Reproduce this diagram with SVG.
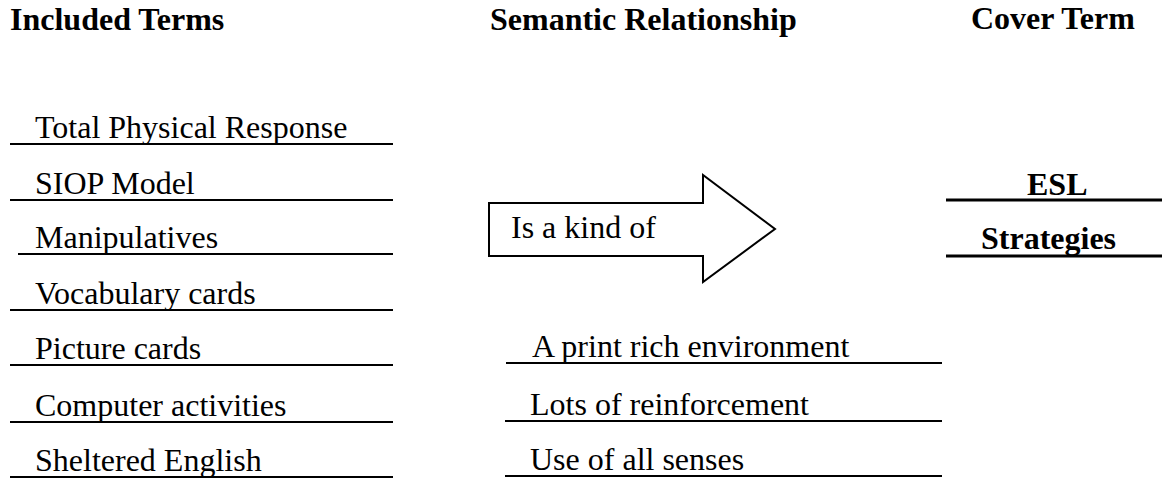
<svg xmlns="http://www.w3.org/2000/svg" width="1164" height="479" viewBox="0 0 1164 479">
<style>
text{font-family:"Liberation Serif","Times New Roman",serif;font-size:32px;fill:#000}
.b{font-weight:bold}
.u{stroke:#000;stroke-width:2;fill:none}
</style>
<rect width="1164" height="479" fill="#fff"/>
<g id="headers">
<text class="b" x="10" y="30">Included Terms</text>
<text class="b" x="490" y="30">Semantic Relationship</text>
<text class="b" x="971" y="29">Cover Term</text>
</g>
<g id="included-terms">
<g id="t1"><text x="35" y="138">Total Physical Response</text><line class="u" x1="10" y1="144" x2="393" y2="144"/></g>
<g id="t2"><text x="35" y="194">SIOP Model</text><line class="u" x1="10" y1="200" x2="393" y2="200"/></g>
<g id="t3"><text x="35" y="248">Manipulatives</text><line class="u" x1="18" y1="254" x2="393" y2="254"/></g>
<g id="t4"><text x="35" y="304">Vocabulary cards</text><line class="u" x1="10" y1="310" x2="393" y2="310"/></g>
<g id="t5"><text x="35" y="359">Picture cards</text><line class="u" x1="10" y1="365" x2="393" y2="365"/></g>
<g id="t6"><text x="35" y="416">Computer activities</text><line class="u" x1="10" y1="422" x2="393" y2="422"/></g>
<g id="t7"><text x="35" y="471">Sheltered English</text><line class="u" x1="10" y1="477" x2="393" y2="477"/></g>
</g>
<g id="relationship">
<polygon points="489,203 703,203 703,175 775,229 703,282 703,256 489,256" fill="#fff" stroke="#000" stroke-width="2"/>
<text x="511" y="238">Is a kind of</text>
</g>
<g id="attributes">
<g id="a1"><text x="532" y="357">A print rich environment</text><line class="u" x1="506" y1="363" x2="942" y2="363"/></g>
<g id="a2"><text x="530" y="415">Lots of reinforcement</text><line class="u" x1="505" y1="421" x2="942" y2="421"/></g>
<g id="a3"><text x="530" y="470">Use of all senses</text><line class="u" x1="505" y1="476" x2="942" y2="476"/></g>
</g>
<g id="cover-term">
<text class="b" x="1027" y="195">ESL</text>
<line x1="946" y1="200" x2="1162" y2="200" stroke="#000" stroke-width="3"/>
<text class="b" x="981" y="249">Strategies</text>
<line x1="946" y1="256" x2="1162" y2="256" stroke="#000" stroke-width="3"/>
</g>
<g id="connectors"></g>
</svg>
